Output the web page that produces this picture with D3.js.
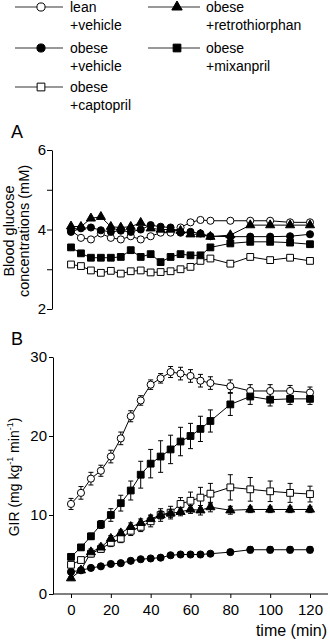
<!DOCTYPE html>
<html>
<head>
<meta charset="utf-8">
<script src="https://cdn.jsdelivr.net/npm/d3@7"></script>
<style>
  body { margin: 0; background: #fff; }
  svg { font-family: "Liberation Sans", Arial, sans-serif; }
</style>
</head>
<body>
<script>
// time points (min)
const times = [0, 5, 10, 15, 20, 25, 30, 35, 40, 45, 50, 55, 60, 65, 70, 80, 90, 100, 110, 120];

// panel A - blood glucose (mM)
const leanA = [3.98, 3.79, 3.75, 3.90, 3.79, 3.75, 3.83, 3.75, 3.83, 3.92, 3.92, 4.05, 4.18, 4.24, 4.22, 4.22, 4.22, 4.22, 4.18, 4.18];
const obeseVehA = [3.94, 4.03, 4.05, 3.98, 3.94, 3.97, 3.94, 4.00, 4.11, 4.07, 4.05, 3.92, 3.94, 3.90, 3.83, 3.82, 3.82, 3.82, 3.83, 3.88];
const retroA = [4.08, 4.07, 4.28, 4.32, 4.07, 4.05, 4.07, 4.17, 4.03, 4.00, 4.00, 3.97, 3.88, 3.88, 3.82, 3.86, 4.11, 4.11, 4.11, 4.11];
const mixA = [3.55, 3.40, 3.29, 3.29, 3.29, 3.31, 3.48, 3.31, 3.38, 3.18, 3.31, 3.38, 3.35, 3.35, 3.55, 3.65, 3.69, 3.69, 3.67, 3.63];
const captoA = [3.12, 3.08, 2.97, 2.91, 2.96, 2.89, 2.95, 2.97, 2.92, 2.93, 2.95, 3.00, 3.06, 3.21, 3.27, 3.14, 3.31, 3.23, 3.29, 3.21];

// panel B - GIR (mg kg-1 min-1) and SEM
const leanB = [11.4, 12.8, 14.6, 15.6, 17.4, 19.7, 22.5, 24.5, 26.5, 27.3, 28.1, 27.9, 27.6, 27.0, 26.7, 26.3, 25.7, 25.7, 25.7, 25.5];
const leanErr = [0.7, 0.8, 0.8, 0.7, 0.8, 0.8, 0.7, 0.6, 0.6, 0.6, 0.7, 0.8, 0.8, 0.8, 0.8, 0.8, 0.8, 0.8, 0.7, 0.7];
const obeseVehB = [2.8, 3.0, 3.3, 3.5, 3.8, 3.9, 4.2, 4.4, 4.5, 4.6, 4.9, 5.0, 5.0, 5.0, 5.1, 5.3, 5.6, 5.6, 5.6, 5.6];
const obeseVehErr = [0.2, 0.2, 0.2, 0.2, 0.2, 0.2, 0.2, 0.2, 0.2, 0.2, 0.2, 0.2, 0.2, 0.2, 0.2, 0.3, 0.4, 0.4, 0.4, 0.4];
const retroB = [2.0, 3.0, 5.3, 5.9, 7.0, 7.7, 8.5, 9.0, 9.5, 10.0, 10.2, 10.4, 10.7, 10.6, 11.0, 10.6, 10.7, 10.7, 10.7, 10.7];
const retroErr = [0.2, 0.3, 0.4, 0.4, 0.4, 0.4, 0.5, 0.5, 0.5, 0.5, 0.5, 0.5, 0.5, 0.6, 0.6, 0.5, 0.4, 0.4, 0.4, 0.4];
const mixB = [4.7, 5.9, 7.3, 8.8, 10.0, 11.5, 13.1, 15.1, 16.5, 17.4, 18.3, 19.3, 20.0, 20.9, 21.9, 24.0, 25.0, 24.6, 24.7, 24.7];
const mixErr = [0.3, 0.3, 0.4, 0.5, 0.8, 1.0, 1.2, 1.7, 1.8, 2.0, 1.8, 1.8, 1.6, 1.6, 1.4, 1.4, 1.0, 0.8, 0.7, 0.7];
const captoB = [3.7, 4.3, 5.1, 5.7, 6.5, 7.0, 8.0, 8.5, 9.2, 10.0, 10.3, 11.4, 11.8, 12.2, 12.7, 13.5, 13.25, 13.0, 12.8, 12.65];
const captoErr = [0.3, 0.3, 0.4, 0.4, 0.5, 0.5, 0.6, 0.6, 0.7, 0.8, 0.8, 0.8, 1.1, 1.3, 1.3, 1.6, 1.5, 1.3, 1.2, 1.0];

// tick values
const ticksA = [2, 3, 4, 5, 6];
const ticksB = [0, 10, 20, 30];
const ticksX = [0, 20, 40, 60, 80, 100, 120];

// groups: symbol + fill
const groups = [
  { key: "lean", label: ["lean", "+vehicle"], symbol: d3.symbolCircle, size: 40, fill: "#fff", a: leanA, b: leanB, err: leanErr },
  { key: "obeseVeh", label: ["obese", "+vehicle"], symbol: d3.symbolCircle, size: 40, fill: "#000", a: obeseVehA, b: obeseVehB, err: obeseVehErr },
  { key: "capto", label: ["obese", "+captopril"], symbol: d3.symbolSquare, size: 46, fill: "#fff", a: captoA, b: captoB, err: captoErr },
  { key: "retro", label: ["obese", "+retrothiorphan"], symbol: d3.symbolTriangle, size: 36, fill: "#000", a: retroA, b: retroB, err: retroErr },
  { key: "mix", label: ["obese", "+mixanpril"], symbol: d3.symbolSquare, size: 46, fill: "#000", a: mixA, b: mixB, err: mixErr }
];

const svg = d3.select("body").append("svg")
  .attr("width", 330)
  .attr("height", 640);

// --- legend ---
const legendPos = [
  { x1: 15, x2: 63, cx: 41, tx: 70, y: 7 },
  { x1: 15, x2: 63, cx: 41, tx: 70, y: 48 },
  { x1: 15, x2: 63, cx: 41, tx: 70, y: 87 },
  { x1: 148, x2: 200, cx: 177, tx: 206, y: 7 },
  { x1: 148, x2: 200, cx: 177, tx: 206, y: 48 }
];
groups.forEach((g, i) => {
  const p = legendPos[i];
  const lg = svg.append("g");
  lg.append("line")
    .attr("x1", p.x1).attr("x2", p.x2)
    .attr("y1", p.y).attr("y2", p.y)
    .attr("stroke", "#333").attr("stroke-width", 1);
  lg.append("path")
    .attr("d", d3.symbol().type(g.symbol).size(g.size * 1.3)())
    .attr("transform", `translate(${p.cx},${p.y})`)
    .attr("fill", g.fill).attr("stroke", "#000");
  lg.append("text")
    .attr("x", p.tx).attr("y", p.y + 5)
    .attr("font-size", 14)
    .text(g.label[0]);
  lg.append("text")
    .attr("x", p.tx).attr("y", p.y + 23)
    .attr("font-size", 14)
    .text(g.label[1]);
});

// --- scales ---
const x = d3.scaleLinear().domain([0, 120]).range([71, 310]);
const yA = d3.scaleLinear().domain([2, 6]).range([309, 150]);
const yB = d3.scaleLinear().domain([0, 30]).range([594, 357]);

function styleAxis(g) {
  g.attr("font-family", null).attr("font-size", null);
  g.selectAll("text").attr("font-size", 15).attr("fill", "#000");
  g.selectAll("line, path").attr("stroke", "#000");
}

// --- panel A ---
svg.append("text").attr("x", 11).attr("y", 138).attr("font-size", 18).text("A");

svg.append("g")
  .attr("transform", "translate(52,0)")
  .call(d3.axisLeft(yA).tickValues(ticksA).tickSize(5).tickSizeOuter(0).tickPadding(1)
    .tickFormat(d => d % 2 === 0 ? d : ""))
  .call(styleAxis);

const labA = svg.append("text")
  .attr("transform", "translate(0,231) rotate(-90)")
  .attr("text-anchor", "middle")
  .attr("font-size", 14.5);
labA.append("tspan").attr("x", 0).attr("y", 14).text("Blood glucose");
labA.append("tspan").attr("x", 0).attr("y", 29).text("concentrations (mM)");

const lineA = (vals) => d3.line().x((d, i) => x(times[i])).y(d => yA(d))(vals);

groups.forEach(g => {
  svg.append("path")
    .attr("d", lineA(g.a))
    .attr("fill", "none").attr("stroke", "#000").attr("stroke-width", 1);
});
groups.forEach(g => {
  svg.selectAll(null)
    .data(g.a)
    .enter()
    .append("path")
    .attr("d", d3.symbol().type(g.symbol).size(g.size)())
    .attr("transform", (d, i) => `translate(${x(times[i])},${yA(d)})`)
    .attr("fill", g.fill).attr("stroke", "#000").attr("stroke-width", 1);
});

// --- panel B ---
svg.append("text").attr("x", 11).attr("y", 345).attr("font-size", 18).text("B");

svg.append("g")
  .attr("transform", "translate(53,0)")
  .call(d3.axisLeft(yB).tickValues(ticksB).tickSize(4).tickSizeOuter(0).tickPadding(2))
  .call(styleAxis);

const xAxisB = svg.append("g")
  .attr("transform", "translate(0,594)")
  .call(d3.axisBottom(x).tickValues(ticksX).tickSize(4).tickPadding(6))
  .call(styleAxis);
xAxisB.select(".domain").remove();
xAxisB.append("line")
  .attr("x1", 53).attr("x2", 328)
  .attr("stroke", "#000");

svg.append("text")
  .attr("x", 327).attr("y", 636)
  .attr("text-anchor", "end")
  .attr("font-size", 16)
  .text("time (min)");

const labB = svg.append("text")
  .attr("transform", "translate(19,477) rotate(-90)")
  .attr("text-anchor", "middle")
  .attr("font-size", 14);
labB.append("tspan").text("GIR (mg kg");
labB.append("tspan").attr("font-size", 9).attr("dy", -6).text("-1");
labB.append("tspan").attr("dy", 6).text(" min");
labB.append("tspan").attr("font-size", 9).attr("dy", -6).text("-1");
labB.append("tspan").attr("dy", 6).text(")");

const lineB = (vals) => d3.line().x((d, i) => x(times[i])).y(d => yB(d))(vals);

// error bars
groups.forEach(g => {
  const eb = svg.append("g").attr("stroke", "#000").attr("stroke-width", 1);
  g.b.forEach((v, i) => {
    const cx = x(times[i]);
    const top = yB(v + g.err[i]);
    const bot = yB(v - g.err[i]);
    eb.append("line").attr("x1", cx).attr("x2", cx).attr("y1", top).attr("y2", bot);
    eb.append("line").attr("x1", cx - 2.5).attr("x2", cx + 2.5).attr("y1", top).attr("y2", top);
    eb.append("line").attr("x1", cx - 2.5).attr("x2", cx + 2.5).attr("y1", bot).attr("y2", bot);
  });
});

groups.forEach(g => {
  svg.append("path")
    .attr("d", lineB(g.b))
    .attr("fill", "none").attr("stroke", "#000").attr("stroke-width", 1);
});
groups.forEach(g => {
  svg.selectAll(null)
    .data(g.b)
    .enter()
    .append("path")
    .attr("d", d3.symbol().type(g.symbol).size(g.size)())
    .attr("transform", (d, i) => `translate(${x(times[i])},${yB(d)})`)
    .attr("fill", g.fill).attr("stroke", "#000").attr("stroke-width", 1);
});
</script>
</body>
</html>
